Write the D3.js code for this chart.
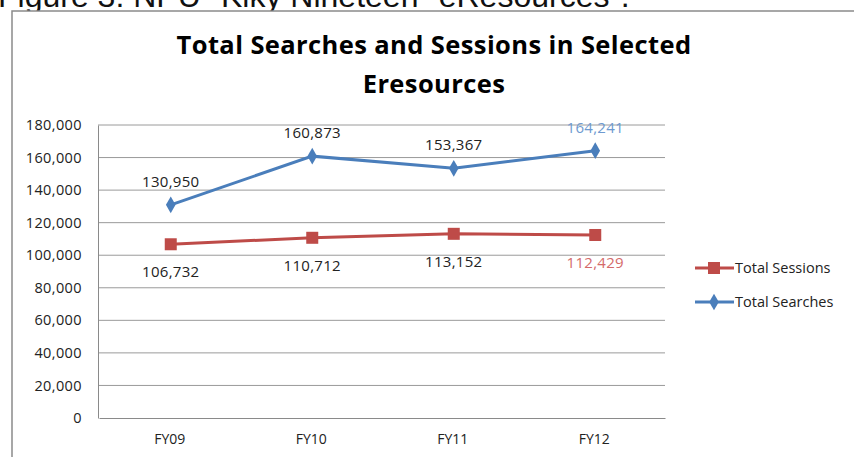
<!DOCTYPE html>
<html><head><meta charset="utf-8">
<script src="https://cdn.jsdelivr.net/npm/d3@7"></script>
<style>html,body{margin:0;padding:0;background:#fff;overflow:hidden}</style>
</head><body>
<svg id="c" width="854" height="457"></svg>
<script>
const categories = ["FY09", "FY10", "FY11", "FY12"];
const sessions = [106732, 110712, 113152, 112429];
const searches = [130950, 160873, 153367, 164241];
const yTicks = [0, 20000, 40000, 60000, 80000, 100000, 120000, 140000, 160000, 180000];
const seriesNames = ["Total Sessions", "Total Searches"];

const svg = d3.select("#c");
const font = "'Open Sans', sans-serif";
const blue = "#4A7EBB", red = "#BE4B48";

// caption cut off at top (as in the reference)
svg.append("text").attr("x", -2).attr("y", 7).attr("font-family", "Arial, 'Liberation Sans', sans-serif")
  .attr("font-size", 32).attr("fill", "#111").text("Figure 3: NPU \"Kiky Nineteen\" eResources\".");

// chart border
svg.append("rect").attr("x", 12).attr("y", 11).attr("width", 900).attr("height", 500)
  .attr("fill", "#fff").attr("stroke", "#8a8a8a").attr("stroke-width", 1.5);

// title
const title = svg.append("text").attr("text-anchor", "middle").attr("font-family", font)
  .attr("font-weight", "bold").attr("font-size", 25.5).attr("letter-spacing", 0.4).attr("fill", "#000");
title.append("tspan").attr("x", 434).attr("y", 54).text("Total Searches and Sessions in Selected");
title.append("tspan").attr("x", 434).attr("y", 93).text("Eresources");

const x = d3.scalePoint().domain(categories).range([170.75, 595.25]);
const xBand = d3.scaleBand().domain(categories).range([99, 665]);
const y = d3.scaleLinear().domain([0, 180000]).range([418, 125]);

// gridlines
svg.append("g").selectAll("line").data(yTicks.filter(d => d > 0)).join("line")
  .attr("x1", 98).attr("x2", 665).attr("y1", d => y(d)).attr("y2", d => y(d))
  .attr("stroke", "#9a9a9a").attr("stroke-width", 1);

// y axis
const yAxis = svg.append("g").attr("transform", "translate(98,0)")
  .call(d3.axisLeft(y).tickValues(yTicks).tickSize(0).tickPadding(16).tickFormat(d3.format(",")));
yAxis.select(".domain").attr("stroke", "#8a8a8a").attr("stroke-width", 1);
yAxis.selectAll("text").attr("font-family", font).attr("font-size", 14.5).attr("letter-spacing", 0.4).attr("fill", "#222");

// x axis
const xAxis = svg.append("g").attr("transform", "translate(0,418)")
  .call(d3.axisBottom(xBand).tickSize(0).tickPadding(16));
xAxis.select(".domain").attr("stroke", "#8a8a8a").attr("stroke-width", 1.2);
xAxis.selectAll("text").attr("font-family", font).attr("font-size", 14).attr("fill", "#222");

const line = d3.line().x((d, i) => x(categories[i])).y(d => y(d));

// sessions
svg.append("path").datum(sessions).attr("d", line).attr("fill", "none").attr("stroke", red).attr("stroke-width", 3);
svg.append("g").selectAll("rect").data(sessions).join("rect")
  .attr("x", (d, i) => x(categories[i]) - 6).attr("y", d => y(d) - 6)
  .attr("width", 12).attr("height", 12).attr("fill", red);
// searches
svg.append("path").datum(searches).attr("d", line).attr("fill", "none").attr("stroke", blue).attr("stroke-width", 3);
const diamond = d3.symbol().type(d3.symbolDiamond).size(80);
svg.append("g").selectAll("path").data(searches).join("path")
  .attr("d", diamond).attr("transform", (d, i) => `translate(${x(categories[i])},${y(d)})`).attr("fill", blue);

// labels
svg.append("g").selectAll("text").data(searches).join("text")
  .attr("x", (d, i) => x(categories[i])).attr("y", d => y(d) - 18)
  .attr("text-anchor", "middle").attr("font-family", font).attr("font-size", 15).attr("letter-spacing", 0.3)
  .attr("fill", (d, i) => i === 3 ? "#6E9AD0" : "#222").text(d => d3.format(",")(d));
svg.append("g").selectAll("text").data(sessions).join("text")
  .attr("x", (d, i) => x(categories[i])).attr("y", d => y(d) + 33)
  .attr("text-anchor", "middle").attr("font-family", font).attr("font-size", 15).attr("letter-spacing", 0.3)
  .attr("fill", (d, i) => i === 3 ? "#D46A6A" : "#222").text(d => d3.format(",")(d));

// legend
const leg = svg.append("g");
const legY = [268, 302];
const legCol = [red, blue];
seriesNames.forEach((n, i) => {
  leg.append("line").attr("x1", 695).attr("x2", 734).attr("y1", legY[i]).attr("y2", legY[i])
    .attr("stroke", legCol[i]).attr("stroke-width", 3);
  if (i === 0) leg.append("rect").attr("x", 708).attr("y", legY[i] - 6).attr("width", 12).attr("height", 12).attr("fill", red);
  else leg.append("path").attr("d", diamond).attr("transform", `translate(714,${legY[i]})`).attr("fill", blue);
  leg.append("text").attr("x", 735).attr("y", legY[i] + 5).attr("font-family", font).attr("font-size", 14.5)
    .attr("fill", "#222").text(n);
});
</script>
</body></html>
